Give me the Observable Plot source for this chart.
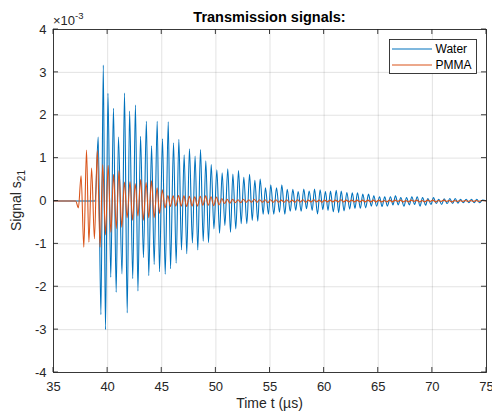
<!DOCTYPE html>
<html>
<head>
<meta charset="utf-8">
<script src="https://cdn.jsdelivr.net/npm/d3@7"></script>
<script src="https://cdn.jsdelivr.net/npm/@observablehq/plot@0.6"></script>
<style>
  html, body { margin: 0; padding: 0; background: #fff; }
  #chart svg { display: block; }
</style>
</head>
<body>
<div id="chart"></div>
<script>
// ---- Data (signal values in units of 1e-3) ----
const xTicks = [35, 40, 45, 50, 55, 60, 65, 70, 75];
const yTicks = [-4, -3, -2, -1, 0, 1, 2, 3, 4];
const seriesNames = ["Water", "PMMA"];
const titleText = "Transmission signals:";
const xLabelText = "Time t (µs)";
const yLabelMain = "Signal s";
const yLabelSub = "21";
const yExponent = "-3";

// [time µs, signal ×1e-3] at the oscillation extremes
const waterSamples = [
  [35,0],[38.85,0],
  [39.13,1.49],[39.38,-2.65],[39.6,3.17],[39.8,-3.0],[40.03,2.51],[40.29,-1.78],[40.54,2.16],[40.79,-2.13],
  [41.0,1.49],[41.33,-1.70],[41.56,2.52],[41.81,-2.61],[42.03,2.10],[42.32,-1.81],[42.57,2.24],[42.8,-2.10],
  [43.04,1.51],[43.31,-1.32],[43.58,1.86],[43.8,-1.74],[44.06,1.29],[44.3,-1.48],[44.58,1.86],[44.79,-1.65],
  [45.07,1.45],[45.32,-1.71],[45.6,1.85],[45.81,-1.58],[46.09,1.36],[46.33,-1.45],[46.58,1.44],[46.82,-1.14],
  [47.07,1.08],[47.31,-1.23],[47.56,1.22],[47.83,-0.98],[48.08,1.05],[48.33,-1.14],[48.58,1.20],[48.83,-0.94],
  [49.07,0.94],[49.32,-0.97],[49.57,0.85],[49.82,-0.65],[50.09,0.73],[50.34,-0.75],[50.58,0.66],[50.83,-0.57],
  [51.1,0.75],[51.35,-0.73],[51.57,0.63],[51.84,-0.65],[52.09,0.71],[52.34,-0.53],[52.58,0.55],[52.86,-0.53],
  [53.11,0.62],[53.36,-0.45],[53.6,0.48],[53.87,-0.47],[54.09,0.51],[54.37,-0.31],[54.58,0.31],[54.86,-0.31],
  [55.07,0.38],[55.35,-0.31],[55.6,0.31],[55.88,-0.26],[56.09,0.38],[56.37,-0.31],[56.59,0.27],[56.87,-0.24],
  [57.11,0.27],[57.38,-0.22],[57.6,0.22],[57.88,-0.24],[58.12,0.28],[58.37,-0.18],[58.62,0.23],[58.9,-0.22],
  [59.11,0.28],[59.39,-0.30],[59.63,0.26],[59.88,-0.20],[60.12,0.22],[60.36,-0.22],[60.59,0.23],[60.85,-0.25],
  [61.12,0.25],[61.34,-0.27],[61.58,0.23],[61.84,-0.23],[62.1,0.20],[62.36,-0.19],[62.6,0.19],[62.85,-0.17],
  [63.08,0.19],[63.35,-0.17],[63.57,0.16],[63.84,-0.16],[64.1,0.16],[64.36,-0.12],[64.59,0.12],[64.85,-0.12],
  [65.12,0.10],[65.35,-0.13],[65.6,0.10],[65.84,-0.12],[66.13,0.10],[66.36,-0.09],[66.59,0.12],[66.85,-0.09],
  [67.08,0.08],[67.38,-0.12],[67.61,0.08],[67.87,-0.09],[68.1,0.10],[68.36,-0.08],[68.6,0.10],[68.86,-0.12],
  [69.09,0.08],[69.38,-0.10],[69.58,0.06],[69.87,-0.08],[70.1,0.08],[70.36,-0.06],[70.59,0.04],[70.86,-0.08],
  [71.09,0.05],[71.38,-0.06],[71.61,0.06],[71.87,-0.06],[72.11,0.06],[72.36,-0.05],[72.6,0.04],[72.86,-0.04],
  [73.12,0.04],[73.38,-0.04],[73.61,0.04],[73.87,-0.04],[74.1,0.04],[74.36,-0.04],[74.63,0.02],[75,0]
];

const pmmaSamples = [
  [35,0],[37.05,0],[37.3,-0.16],
  [37.55,0.59],[37.8,-1.08],[38.05,1.19],[38.27,-0.96],[38.52,0.77],[38.78,-0.88],[39.05,1.18],[39.3,-1.08],
  [39.55,0.85],[39.8,-0.79],[40.05,0.83],[40.3,-0.73],[40.55,0.62],[40.8,-0.64],[41.05,0.71],[41.3,-0.61],
  [41.55,0.44],[41.8,-0.39],[42.07,0.45],[42.3,-0.45],[42.55,0.40],[42.8,-0.35],[43.05,0.50],[43.3,-0.45],
  [43.55,0.43],[43.8,-0.39],[44.05,0.47],[44.3,-0.39],[44.57,0.31],[44.8,-0.29],[45.05,0.26],[45.3,-0.16],
  [45.57,0.13],[45.8,-0.13],[46.05,0.12],[46.3,-0.12],[46.55,0.13],[46.8,-0.12],[47.05,0.12],[47.3,-0.13],
  [47.55,0.11],[47.8,-0.12],[48.05,0.10],[48.3,-0.12],[48.55,0.11],[48.8,-0.10],[49.05,0.12],[49.3,-0.10],
  [49.55,0.10],[49.8,-0.11],[50.05,0.09],[50.3,-0.09],[50.55,0.06],[50.8,-0.06],[51.05,0.04],[51.3,-0.05],
  [51.55,0.04],[51.8,-0.04],[52.05,0.03],[52.3,-0.04],[52.55,0.04],[52.8,-0.03],[53.05,0.03],[53.3,-0.03],
  [53.55,0.04],[53.8,-0.03],[54.05,0.03],[54.3,-0.03],[54.55,0.03],[54.8,-0.04],[55.05,0.03],[55.3,-0.03],
  [55.55,0.03],[55.8,-0.03],[56.05,0.02],[56.3,-0.03],[56.55,0.03],[56.8,-0.03],[57.05,0.02],[57.3,-0.03],
  [57.55,0.03],[57.8,-0.02],[58.05,0.03],[58.3,-0.03],[58.55,0.02],[58.8,-0.02],[59.05,0.03],[59.3,-0.02],
  [59.55,0.02],[59.8,-0.03],[60.05,0.02],[60.3,-0.02],[60.55,0.02],[60.8,-0.02],[61.05,0.02],[61.3,-0.02],
  [61.55,0.03],[61.8,-0.02],[62.05,0.02],[62.3,-0.02],[62.55,0.02],[62.8,-0.02],[63.05,0.02],[63.3,-0.02],
  [63.55,0.02],[63.8,-0.02],[64.05,0.02],[64.3,-0.02],[64.55,0.02],[64.8,-0.02],[65.05,0.02],[65.3,-0.02],
  [65.55,0.01],[65.8,-0.02],[66.05,0.02],[66.3,-0.02],[66.55,0.02],[66.8,-0.01],[67.05,0.02],[67.3,-0.02],
  [67.55,0.01],[67.8,-0.02],[68.05,0.02],[68.3,-0.01],[68.55,0.02],[68.8,-0.02],[69.05,0.01],[69.3,-0.02],
  [69.55,0.02],[69.8,-0.01],[70.05,0.02],[70.3,-0.02],[70.55,0.01],[70.8,-0.01],[71.05,0.02],[71.3,-0.01],
  [71.55,0.01],[71.8,-0.02],[72.05,0.01],[72.3,-0.01],[72.55,0.01],[72.8,-0.01],[73.05,0.01],[73.3,-0.01],
  [73.55,0.01],[73.8,-0.01],[74.05,0.01],[74.3,-0.01],[74.55,0.01],[75,0]
];

// ---- Build ----
const seriesColors = ["#0072BD", "#D95319"];
const toRows = (arr, name) => arr.map(([t, v]) => ({series: name, t, v}));
const waterRows = toRows(waterSamples, seriesNames[0]);
const pmmaRows = toRows(pmmaSamples, seriesNames[1]);

const ink = "#262626";
const font = "'Liberation Sans', Arial, Helvetica, sans-serif";

const chart = Plot.plot({
  width: 492,
  height: 412,
  marginLeft: 53,
  marginRight: 6,
  marginTop: 29,
  marginBottom: 40,
  style: {fontFamily: font, fontSize: "13px", color: ink, background: "#fff", overflow: "visible"},
  x: {domain: [35, 75]},
  y: {domain: [-4, 4]},
  marks: [
    Plot.gridX(xTicks, {stroke: ink, strokeOpacity: 0.13, strokeWidth: 1}),
    Plot.gridY(yTicks, {stroke: ink, strokeOpacity: 0.13, strokeWidth: 1}),
    Plot.lineY(waterRows, {x: "t", y: "v", stroke: seriesColors[0], strokeWidth: 1.1, curve: "monotone-x"}),
    Plot.lineY(pmmaRows, {x: "t", y: "v", stroke: seriesColors[1], strokeWidth: 1.1, curve: "monotone-x"}),
    Plot.frame({stroke: ink, strokeWidth: 0.9}),
    Plot.axisX(xTicks, {tickSize: 0, tickPadding: 9, fontSize: 13, label: null, tickFormat: d => String(d)}),
    Plot.axisY(yTicks, {tickSize: 0, tickPadding: 7, fontSize: 13, label: null, tickFormat: d => String(d)})
  ]
});

document.getElementById("chart").appendChild(chart);

// ---- Decorations: inward ticks, title, labels, legend ----
const svg = d3.select(chart);
const sx = chart.scale("x"), sy = chart.scale("y");
const x0 = sx.apply(xTicks[0]), x1 = sx.apply(xTicks[xTicks.length - 1]);
const y0 = sy.apply(yTicks[0]), y1 = sy.apply(yTicks[yTicks.length - 1]);
const tl = 5;
const g = svg.append("g").attr("stroke", ink).attr("stroke-width", 0.9).attr("fill", "none");
for (const t of xTicks) {
  const px = sx.apply(t);
  g.append("line").attr("x1", px).attr("x2", px).attr("y1", y0).attr("y2", y0 - tl);
  g.append("line").attr("x1", px).attr("x2", px).attr("y1", y1).attr("y2", y1 + tl);
}
for (const v of yTicks) {
  const py = sy.apply(v);
  g.append("line").attr("y1", py).attr("y2", py).attr("x1", x0).attr("x2", x0 + tl);
  g.append("line").attr("y1", py).attr("y2", py).attr("x1", x1).attr("x2", x1 - tl);
}

const cx = (x0 + x1) / 2;
svg.append("text").attr("x", cx).attr("y", 22).attr("text-anchor", "middle")
  .attr("font-family", font).attr("font-size", 14.5).attr("font-weight", "bold").attr("fill", "#000")
  .text(titleText);

const ex = svg.append("text").attr("x", x0).attr("y", 25).attr("text-anchor", "start")
  .attr("font-family", font).attr("font-size", 13).attr("fill", ink);
ex.append("tspan").text("×10");
ex.append("tspan").attr("dy", -6).attr("font-size", 9.5).text(yExponent);

svg.append("text").attr("x", cx).attr("y", 408).attr("text-anchor", "middle")
  .attr("font-family", font).attr("font-size", 14).attr("fill", ink)
  .text(xLabelText);

const yl = svg.append("text").attr("transform", `translate(20.5,${(y0 + y1) / 2}) rotate(-90)`)
  .attr("text-anchor", "middle").attr("font-family", font).attr("font-size", 14).attr("fill", ink);
yl.append("tspan").text(yLabelMain);
yl.append("tspan").attr("dy", 4).attr("font-size", 10).text(yLabelSub);

const lg = svg.append("g");
lg.append("rect").attr("x", 389.5).attr("y", 39.5).attr("width", 87).attr("height", 34)
  .attr("fill", "#fff").attr("stroke", ink).attr("stroke-width", 0.9);
seriesNames.forEach((name, i) => {
  const ly = 49 + i * 16;
  lg.append("line").attr("x1", 392).attr("x2", 432).attr("y1", ly).attr("y2", ly)
    .attr("stroke", seriesColors[i]).attr("stroke-width", 1.1);
  lg.append("text").attr("x", 435.5).attr("y", ly).attr("dy", "0.35em").attr("text-anchor", "start")
    .attr("font-family", font).attr("font-size", 12).attr("fill", "#000").text(name);
});
</script>
</body>
</html>
